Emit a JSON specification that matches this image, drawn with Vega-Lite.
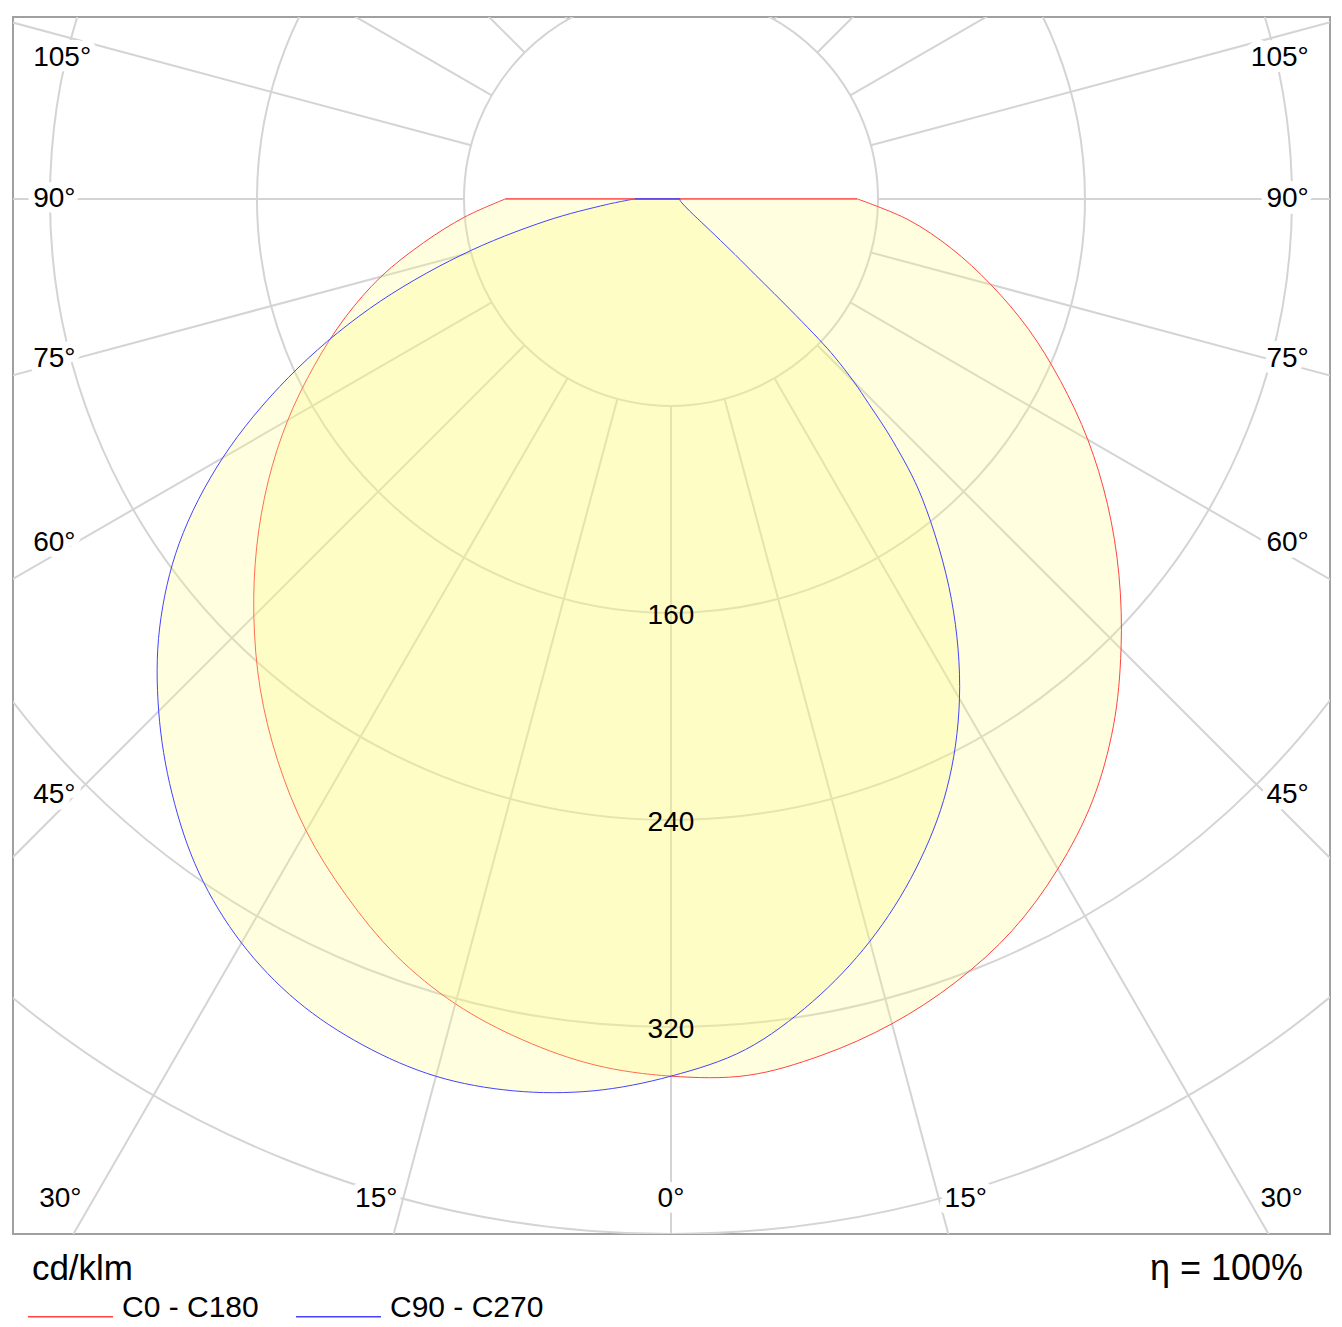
{
  "$schema": "https://vega.github.io/schema/vega-lite/v6.json",
  "width": 1317,
  "height": 1217,
  "autosize": {"type": "none"},
  "padding": {"left": 13, "top": 17, "right": 12, "bottom": 93},
  "background": "#ffffff",
  "datasets": {
    "curves": [
      {"plane": "C0 - C180", "gamma": -180, "cd": 0},
      {"plane": "C0 - C180", "gamma": -90, "cd": 64},
      {"plane": "C0 - C180", "gamma": -85, "cd": 80},
      {"plane": "C0 - C180", "gamma": -80, "cd": 97},
      {"plane": "C0 - C180", "gamma": -75, "cd": 116},
      {"plane": "C0 - C180", "gamma": -70, "cd": 134},
      {"plane": "C0 - C180", "gamma": -65, "cd": 152},
      {"plane": "C0 - C180", "gamma": -60, "cd": 171},
      {"plane": "C0 - C180", "gamma": -55, "cd": 190},
      {"plane": "C0 - C180", "gamma": -50, "cd": 209},
      {"plane": "C0 - C180", "gamma": -45, "cd": 228},
      {"plane": "C0 - C180", "gamma": -40, "cd": 247},
      {"plane": "C0 - C180", "gamma": -35, "cd": 265},
      {"plane": "C0 - C180", "gamma": -30, "cd": 282},
      {"plane": "C0 - C180", "gamma": -25, "cd": 297},
      {"plane": "C0 - C180", "gamma": -20, "cd": 311},
      {"plane": "C0 - C180", "gamma": -15, "cd": 322},
      {"plane": "C0 - C180", "gamma": -10, "cd": 330},
      {"plane": "C0 - C180", "gamma": -5, "cd": 336},
      {"plane": "C0 - C180", "gamma": 0, "cd": 339},
      {"plane": "C0 - C180", "gamma": 5, "cd": 340},
      {"plane": "C0 - C180", "gamma": 10, "cd": 336},
      {"plane": "C0 - C180", "gamma": 15, "cd": 330},
      {"plane": "C0 - C180", "gamma": 20, "cd": 322},
      {"plane": "C0 - C180", "gamma": 25, "cd": 312},
      {"plane": "C0 - C180", "gamma": 30, "cd": 299},
      {"plane": "C0 - C180", "gamma": 35, "cd": 284},
      {"plane": "C0 - C180", "gamma": 40, "cd": 266},
      {"plane": "C0 - C180", "gamma": 45, "cd": 246},
      {"plane": "C0 - C180", "gamma": 50, "cd": 226},
      {"plane": "C0 - C180", "gamma": 55, "cd": 206},
      {"plane": "C0 - C180", "gamma": 60, "cd": 186},
      {"plane": "C0 - C180", "gamma": 65, "cd": 166},
      {"plane": "C0 - C180", "gamma": 70, "cd": 147},
      {"plane": "C0 - C180", "gamma": 75, "cd": 128},
      {"plane": "C0 - C180", "gamma": 80, "cd": 110},
      {"plane": "C0 - C180", "gamma": 85, "cd": 92},
      {"plane": "C0 - C180", "gamma": 90, "cd": 72},
      {"plane": "C0 - C180", "gamma": 180, "cd": 0},
      {"plane": "C90 - C270", "gamma": -180, "cd": 0},
      {"plane": "C90 - C270", "gamma": -90, "cd": 14},
      {"plane": "C90 - C270", "gamma": -85, "cd": 25},
      {"plane": "C90 - C270", "gamma": -80, "cd": 49},
      {"plane": "C90 - C270", "gamma": -75, "cd": 84},
      {"plane": "C90 - C270", "gamma": -70, "cd": 124},
      {"plane": "C90 - C270", "gamma": -65, "cd": 163},
      {"plane": "C90 - C270", "gamma": -60, "cd": 200},
      {"plane": "C90 - C270", "gamma": -55, "cd": 232},
      {"plane": "C90 - C270", "gamma": -50, "cd": 258},
      {"plane": "C90 - C270", "gamma": -45, "cd": 280},
      {"plane": "C90 - C270", "gamma": -40, "cd": 300},
      {"plane": "C90 - C270", "gamma": -35, "cd": 318},
      {"plane": "C90 - C270", "gamma": -30, "cd": 332},
      {"plane": "C90 - C270", "gamma": -25, "cd": 342},
      {"plane": "C90 - C270", "gamma": -20, "cd": 348},
      {"plane": "C90 - C270", "gamma": -15, "cd": 351},
      {"plane": "C90 - C270", "gamma": -10, "cd": 350},
      {"plane": "C90 - C270", "gamma": -5, "cd": 346},
      {"plane": "C90 - C270", "gamma": 0, "cd": 339},
      {"plane": "C90 - C270", "gamma": 5, "cd": 330},
      {"plane": "C90 - C270", "gamma": 10, "cd": 315},
      {"plane": "C90 - C270", "gamma": 15, "cd": 297},
      {"plane": "C90 - C270", "gamma": 20, "cd": 276},
      {"plane": "C90 - C270", "gamma": 25, "cd": 252},
      {"plane": "C90 - C270", "gamma": 30, "cd": 223},
      {"plane": "C90 - C270", "gamma": 35, "cd": 189},
      {"plane": "C90 - C270", "gamma": 40, "cd": 151},
      {"plane": "C90 - C270", "gamma": 42.5, "cd": 127},
      {"plane": "C90 - C270", "gamma": 44, "cd": 110},
      {"plane": "C90 - C270", "gamma": 45, "cd": 100},
      {"plane": "C90 - C270", "gamma": 46, "cd": 88},
      {"plane": "C90 - C270", "gamma": 46.5, "cd": 79},
      {"plane": "C90 - C270", "gamma": 47, "cd": 66},
      {"plane": "C90 - C270", "gamma": 47.5, "cd": 54},
      {"plane": "C90 - C270", "gamma": 48, "cd": 44},
      {"plane": "C90 - C270", "gamma": 49, "cd": 33},
      {"plane": "C90 - C270", "gamma": 50, "cd": 25},
      {"plane": "C90 - C270", "gamma": 52.5, "cd": 15},
      {"plane": "C90 - C270", "gamma": 55, "cd": 10.5},
      {"plane": "C90 - C270", "gamma": 60, "cd": 7},
      {"plane": "C90 - C270", "gamma": 70, "cd": 4.5},
      {"plane": "C90 - C270", "gamma": 80, "cd": 3.6},
      {"plane": "C90 - C270", "gamma": 90, "cd": 3.5},
      {"plane": "C90 - C270", "gamma": 180, "cd": 0}
    ],
    "rings": [{"r": 80}, {"r": 160}, {"r": 240}, {"r": 320}, {"r": 400}],
    "spokes": [
      {"a": -165}, {"a": -150}, {"a": -135}, {"a": -120}, {"a": -105}, {"a": -90},
      {"a": -75}, {"a": -60}, {"a": -45}, {"a": -30}, {"a": -15}, {"a": 0},
      {"a": 15}, {"a": 30}, {"a": 45}, {"a": 60}, {"a": 75}, {"a": 90},
      {"a": 105}, {"a": 120}, {"a": 135}, {"a": 150}, {"a": 165}
    ],
    "angleLabels": [
      {"a": 105, "s": -1, "pos": "side"},
      {"a": 90, "s": -1, "pos": "side"},
      {"a": 75, "s": -1, "pos": "side"},
      {"a": 60, "s": -1, "pos": "side"},
      {"a": 45, "s": -1, "pos": "side"},
      {"a": 105, "s": 1, "pos": "side"},
      {"a": 90, "s": 1, "pos": "side"},
      {"a": 75, "s": 1, "pos": "side"},
      {"a": 60, "s": 1, "pos": "side"},
      {"a": 45, "s": 1, "pos": "side"},
      {"a": 30, "s": -1, "pos": "bottom"},
      {"a": 15, "s": -1, "pos": "bottom"},
      {"a": 0, "s": 0, "pos": "bottom"},
      {"a": 15, "s": 1, "pos": "bottom"},
      {"a": 30, "s": 1, "pos": "bottom"}
    ],
    "notes": [
      {"t": "cd/klm", "side": "left"},
      {"t": "η = 100%", "side": "right"}
    ]
  },
  "layer": [
    {
      "description": "rings",
      "data": {"name": "rings"},
      "mark": {"type": "point", "shape": "circle", "filled": false, "color": "#d4d4d4", "strokeWidth": 2, "opacity": 1, "clip": true},
      "encoding": {
        "x": {"datum": 0, "type": "quantitative", "scale": {"domain": [-254.3, 254.7], "nice": false, "zero": false}, "axis": null},
        "y": {"datum": 0, "type": "quantitative", "scale": {"domain": [-70.3, 400], "nice": false, "zero": false, "reverse": true}, "axis": null},
        "size": {"field": "r", "type": "quantitative", "scale": {"type": "pow", "exponent": 2, "domain": [0, 400], "range": [0, 4285000]}, "legend": null}
      }
    },
    {
      "description": "spokes",
      "data": {"name": "spokes"},
      "transform": [
        {"calculate": "80 * sin(datum.a * PI / 180)", "as": "x1"},
        {"calculate": "80 * cos(datum.a * PI / 180)", "as": "y1"},
        {"calculate": "700 * sin(datum.a * PI / 180)", "as": "x2"},
        {"calculate": "700 * cos(datum.a * PI / 180)", "as": "y2"}
      ],
      "mark": {"type": "rule", "color": "#d4d4d4", "strokeWidth": 2, "clip": true},
      "encoding": {
        "x": {"field": "x1", "type": "quantitative", "scale": {"domain": [-254.3, 254.7], "nice": false, "zero": false}, "axis": null},
        "y": {"field": "y1", "type": "quantitative", "scale": {"domain": [-70.3, 400], "nice": false, "zero": false, "reverse": true}, "axis": null},
        "x2": {"field": "x2"},
        "y2": {"field": "y2"}
      }
    },
    {
      "description": "curves",
      "data": {"name": "curves"},
      "transform": [
        {"calculate": "datum.cd * sin(datum.gamma * PI / 180)", "as": "px"},
        {"calculate": "datum.cd * cos(datum.gamma * PI / 180)", "as": "py"}
      ],
      "encoding": {
        "x": {"field": "px", "type": "quantitative", "scale": {"domain": [-254.3, 254.7], "nice": false, "zero": false}, "axis": null},
        "y": {"field": "py", "type": "quantitative", "scale": {"domain": [-70.3, 400], "nice": false, "zero": false, "reverse": true}, "axis": null},
        "order": {"field": "gamma", "type": "quantitative"}
      },
      "layer": [
        {
          "transform": [{"filter": "abs(datum.gamma) <= 90"}],
          "mark": {"type": "line", "interpolate": "catmull-rom", "fill": "#fffa78", "fillOpacity": 0.24, "strokeWidth": 1},
          "encoding": {
            "color": {
              "field": "plane",
              "type": "nominal",
              "scale": {"domain": ["C0 - C180", "C90 - C270"], "range": ["#ff4444", "#4444ff"]},
              "legend": {
                "orient": "none",
                "legendX": 14,
                "legendY": 1256,
                "direction": "horizontal",
                "title": null,
                "symbolType": "stroke",
                "symbolSize": 7225,
                "symbolStrokeWidth": 1.5,
                "labelFont": "Liberation Sans",
                "labelFontSize": 30,
                "labelColor": "#000000",
                "labelBaseline": "alphabetic",
                "labelOffset": 8,
                "labelLimit": 400,
                "columnPadding": 34,
                "padding": 0
              }
            }
          }
        },
        {
          "transform": [{"filter": "abs(datum.gamma) >= 90"}],
          "mark": {"type": "line", "strokeWidth": 1},
          "encoding": {
            "color": {"field": "plane", "type": "nominal", "scale": {"domain": ["C0 - C180", "C90 - C270"], "range": ["#ff4444", "#4444ff"]}}
          }
        }
      ]
    },
    {
      "description": "ring values",
      "data": {"name": "rings"},
      "transform": [{"filter": "datum.r >= 160 && datum.r <= 320"}],
      "mark": {"type": "text", "fontSize": 28, "baseline": "middle", "dy": 3, "color": "#000000"},
      "encoding": {
        "x": {"datum": 0, "type": "quantitative", "scale": {"domain": [-254.3, 254.7], "nice": false, "zero": false}, "axis": null},
        "y": {"field": "r", "type": "quantitative", "scale": {"domain": [-70.3, 400], "nice": false, "zero": false, "reverse": true}, "axis": null},
        "text": {"field": "r", "type": "quantitative"}
      }
    },
    {
      "description": "angle labels",
      "data": {"name": "angleLabels"},
      "transform": [
        {"calculate": "datum.a + '°'", "as": "lbl"},
        {"calculate": "datum.pos == 'side' ? datum.s * 246.5 : datum.s * 394.6 * tan(datum.a * PI / 180)", "as": "lx"},
        {"calculate": "datum.pos == 'side' ? 230.3 / tan(datum.a * PI / 180) + (datum.a > 90 ? 7.4 : 0) : 386.5", "as": "ly"},
        {"calculate": "datum.s == 0 ? 'center' : ((datum.pos == 'side') == (datum.s < 0) ? 'left' : 'right')", "as": "al"}
      ],
      "encoding": {
        "x": {"field": "lx", "type": "quantitative", "scale": {"domain": [-254.3, 254.7], "nice": false, "zero": false}, "axis": null},
        "y": {"field": "ly", "type": "quantitative", "scale": {"domain": [-70.3, 400], "nice": false, "zero": false, "reverse": true}, "axis": null},
        "text": {"field": "lbl"}
      },
      "layer": [
        {"transform": [{"filter": "datum.al == 'left'"}], "mark": {"type": "text", "align": "left", "baseline": "middle", "fontSize": 28, "fill": "#ffffff", "stroke": "#ffffff", "strokeWidth": 14, "strokeJoin": "round"}},
        {"transform": [{"filter": "datum.al == 'left'"}], "mark": {"type": "text", "align": "left", "baseline": "middle", "fontSize": 28, "color": "#000000"}},
        {"transform": [{"filter": "datum.al == 'right'"}], "mark": {"type": "text", "align": "right", "baseline": "middle", "fontSize": 28, "fill": "#ffffff", "stroke": "#ffffff", "strokeWidth": 14, "strokeJoin": "round"}},
        {"transform": [{"filter": "datum.al == 'right'"}], "mark": {"type": "text", "align": "right", "baseline": "middle", "fontSize": 28, "color": "#000000"}},
        {"transform": [{"filter": "datum.al == 'center'"}], "mark": {"type": "text", "align": "center", "baseline": "middle", "fontSize": 28, "fill": "#ffffff", "stroke": "#ffffff", "strokeWidth": 14, "strokeJoin": "round"}},
        {"transform": [{"filter": "datum.al == 'center'"}], "mark": {"type": "text", "align": "center", "baseline": "middle", "fontSize": 28, "color": "#000000"}}
      ]
    },
    {
      "description": "unit note",
      "data": {"name": "notes"},
      "transform": [{"filter": "datum.side == 'left'"}],
      "mark": {"type": "text", "align": "left", "baseline": "middle", "fontSize": 35, "color": "#000000"},
      "encoding": {
        "x": {"datum": -247, "type": "quantitative", "scale": {"domain": [-254.3, 254.7], "nice": false, "zero": false}, "axis": null},
        "y": {"datum": 413.5, "type": "quantitative", "scale": {"domain": [-70.3, 400], "nice": false, "zero": false, "reverse": true}, "axis": null},
        "text": {"field": "t"}
      }
    },
    {
      "description": "efficiency note",
      "data": {"name": "notes"},
      "transform": [{"filter": "datum.side == 'right'"}],
      "mark": {"type": "text", "align": "right", "baseline": "middle", "fontSize": 36, "color": "#000000"},
      "encoding": {
        "x": {"datum": 244.3, "type": "quantitative", "scale": {"domain": [-254.3, 254.7], "nice": false, "zero": false}, "axis": null},
        "y": {"datum": 413.5, "type": "quantitative", "scale": {"domain": [-70.3, 400], "nice": false, "zero": false, "reverse": true}, "axis": null},
        "text": {"field": "t"}
      }
    }
  ],
  "config": {
    "view": {"stroke": "#a0a0a0", "strokeWidth": 2},
    "text": {"font": "Liberation Sans"}
  }
}
